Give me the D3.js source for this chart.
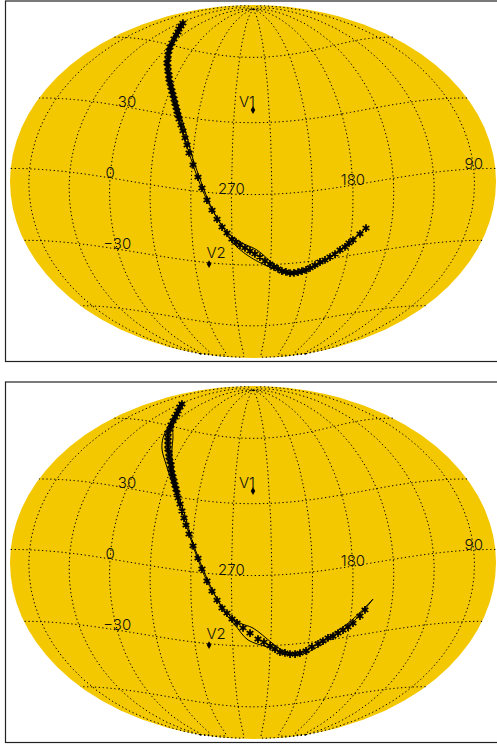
<!DOCTYPE html><html><head><meta charset="utf-8"><script src="https://cdn.jsdelivr.net/npm/d3@7"></script>
<style>html,body{margin:0;background:#fff}svg{position:absolute;left:0;top:0}</style></head><body>
<svg id="s" width="497" height="745"></svg>
<script>
const starsTop=[[25.9,70.9],[20.2,69.4],[15.7,67.9],[10.7,66.5],[7.7,65.0],[3.8,63.0],[0.6,61.0],[358.0,59.1],[354.9,57.2],[352.2,55.4],[348.8,53.6],[346.8,51.8],[343.2,50.2],[340.7,48.4],[337.6,46.8],[335.7,45.1],[333.0,43.5],[330.5,41.8],[328.1,40.2],[325.9,38.6],[323.8,37.0],[321.9,35.3],[320.0,33.7],[318.3,32.1],[316.6,30.5],[315.0,28.9],[312.4,26.5],[310.0,24.2],[307.5,21.4],[305.2,18.6],[303.0,15.4],[299.2,10.7],[295.0,5.9],[291.8,1.6],[288.0,-3.2],[284.3,-7.2],[280.7,-10.8],[277.1,-14.0],[273.5,-16.4],[269.9,-18.9],[266.9,-20.1],[263.9,-21.3],[260.1,-22.5],[256.3,-23.8],[252.5,-25.1],[248.6,-26.5],[244.6,-28.3],[240.6,-29.7],[237.3,-31.1],[234.0,-32.1],[230.7,-33.2],[227.4,-33.7],[224.0,-34.4],[220.8,-34.5],[217.6,-34.3],[214.5,-34.0],[211.3,-33.7],[208.3,-33.0],[204.7,-32.0],[201.0,-30.9],[197.3,-30.3],[193.7,-29.3],[190.1,-28.3],[186.7,-26.8],[183.2,-25.8],[180.6,-24.3],[177.8,-23.3],[173.1,-21.1],[169.1,-19.0]];
const starsBottom=[[27.3,70.8],[21.6,69.3],[14.8,67.4],[10.1,65.9],[7.3,64.4],[3.5,62.5],[0.5,60.5],[356.9,58.6],[354.9,56.7],[351.3,54.9],[348.0,53.2],[345.1,51.5],[342.5,49.7],[339.2,48.1],[337.1,46.4],[334.3,44.7],[331.6,43.1],[330.1,41.4],[327.8,39.8],[325.6,38.2],[323.5,36.5],[321.6,34.9],[319.8,33.3],[318.1,31.7],[316.2,29.7],[313.5,27.3],[310.9,24.5],[308.4,21.7],[306.1,18.9],[303.0,15.4],[299.2,10.7],[295.0,5.9],[291.8,1.6],[288.0,-3.2],[284.3,-7.2],[280.7,-10.8],[277.1,-14.0],[273.5,-16.0],[269.8,-18.4],[266.1,-20.0],[261.6,-22.1],[256.3,-24.3],[250.1,-26.9],[245.4,-28.3],[240.5,-30.1],[236.4,-31.6],[232.3,-33.1],[228.2,-33.7],[224.0,-34.4],[219.9,-34.6],[216.0,-34.4],[211.3,-33.7],[207.0,-32.2],[202.5,-31.2],[198.9,-30.2],[195.3,-29.1],[191.6,-28.6],[188.0,-27.6],[184.5,-26.6],[181.0,-25.6],[177.6,-24.2],[173.0,-21.6],[169.8,-19.3]];
const trackTopA=[[29.1,71.4],[9.5,65.4],[359.2,59.5],[349.0,53.1],[341.1,47.9],[333.4,43.0],[326.4,38.1],[319.3,32.5],[313.5,27.3],[307.3,20.5],[302.0,14.2],[295.8,6.3],[288.0,-3.2],[280.7,-10.3],[273.5,-16.0],[263.9,-20.0],[250.9,-23.4],[239.0,-29.3],[232.4,-32.2],[224.0,-34.4],[213.6,-34.0],[193.7,-29.3],[177.9,-22.8],[169.1,-19.0]];
const trackTopB=[[25.9,70.9],[7.0,65.6],[356.9,59.7],[347.0,53.3],[339.2,48.1],[330.7,43.2],[323.9,38.3],[316.8,32.7],[311.1,27.5],[305.0,20.7],[300.5,14.3],[294.3,6.4],[287.2,-3.1],[280.0,-11.1],[274.2,-16.0],[269.2,-20.5],[258.6,-25.6],[242.9,-30.5],[232.3,-32.6],[223.9,-34.8],[213.5,-34.5],[193.6,-29.7],[177.8,-23.3],[169.1,-19.0]];
const trackBottomA=[[27.3,70.8],[10.7,65.3],[1.4,59.3],[355.5,54.0],[348.3,49.2],[338.8,44.3],[330.4,39.5],[323.3,34.8],[317.2,30.0],[309.6,22.9],[302.0,14.2],[295.8,6.3],[288.0,-3.2],[280.7,-10.3],[273.5,-16.0],[263.9,-20.0],[254.0,-22.1],[239.1,-28.8],[232.4,-31.7],[224.1,-33.9],[213.8,-33.6],[194.0,-28.4],[178.0,-22.4],[164.6,-15.2]];
const trackBottomB=[[27.3,70.8],[8.2,65.5],[355.8,59.8],[345.3,55.0],[338.7,50.1],[332.4,44.9],[326.0,39.9],[320.8,35.0],[315.6,30.2],[308.0,23.0],[301.3,14.3],[295.0,6.4],[287.2,-3.1],[280.0,-11.1],[275.0,-16.0],[267.7,-20.9],[257.9,-27.3],[242.9,-30.5],[232.3,-33.1],[223.9,-34.8],[213.4,-35.0],[193.6,-29.7],[177.7,-23.7],[164.6,-15.2]];
const probes=[["V1",[254.0,35.5],-6,-3],["V2",[288.8,-30.6],7,-6]];
const gridLabels=[["30",[0,30]],["0",[0,0]],["\u221230",[0,-30]],["270",[270,0]],["180",[180,0]],["90",[90,0]]];
const panelOffsets=[0,381];
const k=243/176.5;
function raw(l,p){let t=p;const c=Math.PI*Math.sin(p);if(Math.abs(Math.abs(p)-Math.PI/2)>1e-6)for(let i=0;i<30;i++){const d=(2*t+Math.sin(2*t)-c)/(2+2*Math.cos(2*t));t-=d;if(Math.abs(d)<1e-9)break;}return [k*l*Math.cos(t)/Math.PI,Math.sin(t)];}
raw.invert=(x,y)=>{const t=Math.asin(y);return [Math.PI*x/(k*Math.cos(t)),Math.asin((2*t+Math.sin(2*t))/Math.PI)];};
const proj=d3.geoProjection(raw).rotate([-254,-5.4]).scale(176.5).translate([253,181.5]).reflectX(true).precision(0.3);
const path=d3.geoPath(proj);
const grat=d3.geoGraticule().extent([[-180,-90.01],[180,90.01]]).step([30,30])();
const line=d3.line().x(d=>proj(d)[0]).y(d=>proj(d)[1]).curve(d3.curveCatmullRom);
const sym=d3.symbol().type(d3.symbolAsterisk).size(42);
const svg=d3.select("#s");
const font={family:"Inter",size:15,weight:300};
function panel(i,stars,a,b){
 const g=svg.append("g").attr("transform",`translate(0,${panelOffsets[i]})`);
 g.append("rect").attr("x",5.5).attr("y",1).attr("width",520).attr("height",360.5).attr("fill","none").attr("stroke","#222").attr("stroke-width",1.2);
 g.append("path").datum({type:"Sphere"}).attr("d",path).attr("fill","#f4c800");
 g.append("path").datum(grat).attr("d",path).attr("fill","none").attr("stroke","#000").attr("stroke-dasharray","1.3 2.6");
 [a,b].forEach(t=>g.append("path").attr("d",line(t)).attr("fill","none").attr("stroke","#000").attr("stroke-width",1));
 g.selectAll("path.st").data(stars).join("path").attr("class","st").attr("d",sym).attr("transform",d=>`translate(${proj(d)})`).attr("fill","none").attr("stroke","#000").attr("stroke-width",1.7);
 g.selectAll("text.g").data(gridLabels).join("text").attr("class","g").attr("transform",d=>`translate(${proj(d[1])})`).attr("text-anchor","middle").attr("font-family",font.family).attr("font-weight",font.weight).attr("font-size",font.size).attr("fill","#111").text(d=>d[0]);
 g.selectAll("path.v").data(probes).join("path").attr("class","v").attr("d",d3.symbol().type(d3.symbolDiamond).size(18)).attr("transform",d=>`translate(${proj(d[1])})`).attr("fill","#000");
 g.selectAll("text.p").data(probes).join("text").attr("class","p").attr("transform",d=>{const q=proj(d[1]);return `translate(${q[0]+d[2]},${q[1]+d[3]})`}).attr("text-anchor","middle").attr("font-family",font.family).attr("font-weight",font.weight).attr("font-size",font.size).attr("fill","#111").text(d=>d[0]);
}
panel(0,starsTop,trackTopA,trackTopB);
panel(1,starsBottom,trackBottomA,trackBottomB);
</script></body></html>
